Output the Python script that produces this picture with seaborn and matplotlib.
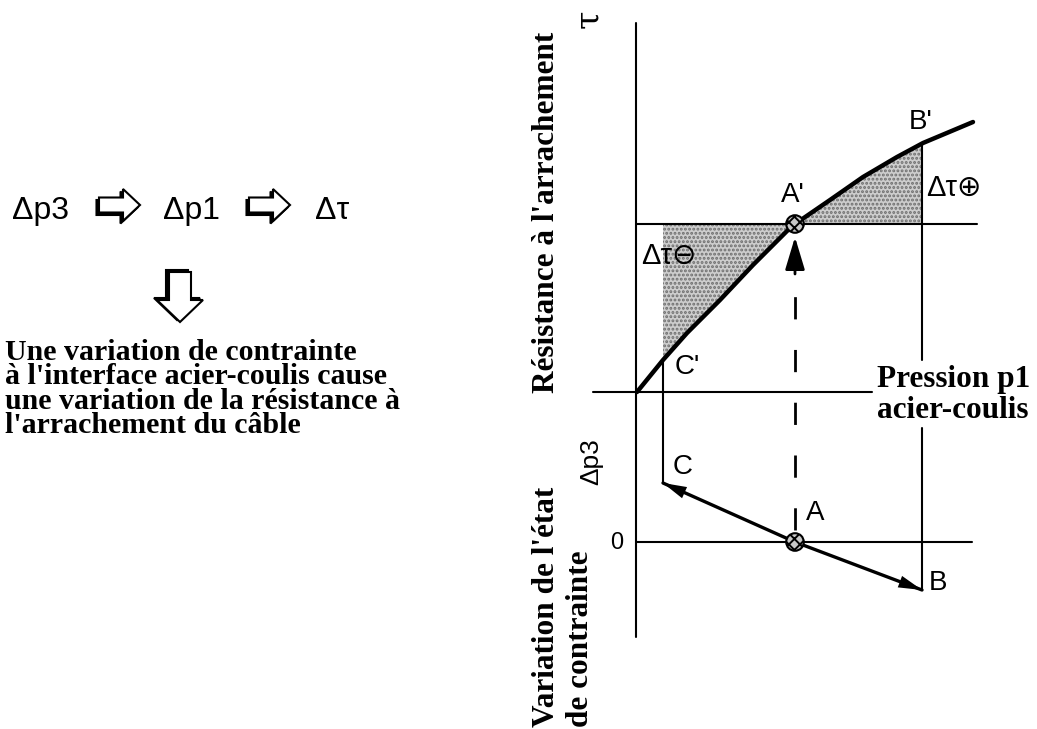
import matplotlib
matplotlib.use("Agg")
import matplotlib.pyplot as plt
import matplotlib.patches as mpatches
import numpy as np
import seaborn as sns

# ---------------- data (diagram units, y grows downward) ----------------
# tau = f(p1) curve
curve_x = [637, 663, 687, 720, 753, 787, 795, 830, 863, 897, 923, 973]
curve_y = [392, 360, 333, 300, 265, 231, 224, 200, 177, 157, 143, 122]

# stress path C -> A -> B (lower diagram)
path_x = [663, 795, 922]
path_y = [483, 542, 590]
path_labels = ["C", "A", "B"]

# characteristic points on the curve
point_labels = ["C'", "A'", "B'"]
point_x = [663, 795, 923]
point_y = [360, 224, 143]

# reference levels
tau_axis_x = 636
p1_axis_y = 392
tau_a_level = 224
dp3_zero_y = 542

left_chain = ["Δp3", "Δp1", "Δτ"]
paragraph = ["Une variation de contrainte",
             "à l'interface acier-coulis cause",
             "une variation de la résistance à",
             "l'arrachement du câble"]

# ---------------- figure ----------------
sns.set_theme(style="white")
plt.rcParams['font.family'] = ['Liberation Sans', 'DejaVu Sans']
plt.rcParams['hatch.linewidth'] = 1.4

fig = plt.figure(figsize=(10.37, 7.29), dpi=100)
ax = fig.add_axes([0, 0, 1, 1])
ax.set_xlim(0, 1037)
ax.set_ylim(729, 0)
ax.axis('off')

K = 'black'
ax.plot([tau_axis_x, tau_axis_x], [23, 637], color=K, lw=1.5)
ax.plot([593, 872], [p1_axis_y, p1_axis_y], color=K, lw=1.5)
ax.plot([tau_axis_x, 977], [tau_a_level, tau_a_level], color=K, lw=1.5)
ax.plot([tau_axis_x, 972], [dp3_zero_y, dp3_zero_y], color=K, lw=1.5)
# vertical from B' down to B (interrupted by text)
ax.plot([point_x[2] - 1, point_x[2] - 1], [point_y[2], 360], color=K, lw=1.5)
ax.plot([path_x[2], path_x[2]], [428, path_y[2]], color=K, lw=1.5)
# vertical from C' down to C
ax.plot([point_x[0], point_x[0]], [point_y[0], path_y[0]], color=K, lw=1.5)

# shaded areas
cx = np.array(curve_x)
cy = np.array(curve_y)
m1 = (cx >= point_x[0]) & (cx <= point_x[1])
m2 = (cx >= point_x[1]) & (cx <= point_x[2])
for m in (m1, m2):
    ax.fill_between(cx[m], cy[m], tau_a_level, facecolor='#cdcdcd',
                    edgecolor='#6e6e6e', hatch='....', lw=0, zorder=1)

# curve
sns.lineplot(x=curve_x, y=curve_y, sort=False, estimator=None, color=K,
             lw=3.2, ax=ax, zorder=3)
# stress path
sns.lineplot(x=path_x, y=path_y, sort=False, estimator=None, color=K,
             lw=2.4, ax=ax, zorder=3)

ap = dict(arrowstyle='-|>,head_length=0.85,head_width=0.22', color=K, lw=0,
          shrinkA=0, shrinkB=0, mutation_scale=20)
ax.annotate('', xy=(path_x[0], path_y[0]),
            xytext=(path_x[0] + 0.3 * (path_x[1] - path_x[0]),
                    path_y[0] + 0.3 * (path_y[1] - path_y[0])), arrowprops=ap)
ax.annotate('', xy=(path_x[2], path_y[2]),
            xytext=(path_x[2] - 0.3 * (path_x[2] - path_x[1]),
                    path_y[2] - 0.3 * (path_y[2] - path_y[1])), arrowprops=ap)

# dashed projection A -> A'
ax.plot([path_x[1], path_x[1]], [530, 262], color=K, lw=2, ls=(0, (8, 11)))
ax.annotate('', xy=(point_x[1], 237), xytext=(point_x[1], 274),
            arrowprops=dict(arrowstyle='-|>,head_length=1.0,head_width=0.3',
                            color=K, lw=2, shrinkA=0, shrinkB=0,
                            mutation_scale=20))

# points A and A'
ax.scatter([point_x[1], path_x[1]], [point_y[1], path_y[1]], s=160,
           facecolor='#c8c8c8', edgecolor=K, linewidths=1.5, hatch='xxx',
           zorder=6)

# ---------------- texts ----------------
serif = dict(family='Liberation Serif', weight='bold', fontsize=22.5, color=K)
sans = dict(family=['Liberation Sans', 'DejaVu Sans'], color=K)

ax.text(547, 212, "Résistance à l'arrachement", rotation=90,
        ha='center', va='center', **serif)
ax.text(546, 727, "Variation de l'état", rotation=90, ha='center',
        va='bottom', **serif)
ax.text(581, 727, "de contrainte", rotation=90, ha='center',
        va='bottom', **serif)
ax.text(877, 387, "Pression p1", ha='left', va='baseline', **serif)
ax.text(877, 418, "acier-coulis", ha='left', va='baseline', **serif)

ax.text(589, 19, 'τ', rotation=90, ha='center', va='center',
        family='DejaVu Serif', fontsize=24, color=K)
ax.text(591, 462, 'Δp3', rotation=90, ha='center', va='center',
        fontsize=19, **sans)
ax.text(617, 543, '0', ha='center', va='center', fontsize=17, **sans)

lab_off = {"C'": (24, 7), "A'": (-2, -29), "B'": (-2, -21)}
for lab, x, y in zip(point_labels, point_x, point_y):
    dx, dy = lab_off[lab]
    ax.text(x + dx, y + dy, lab, ha='center', va='center', fontsize=20, **sans)
lab_off2 = {"C": (20, -16), "A": (20, -29), "B": (16, -7)}
for lab, x, y in zip(path_labels, path_x, path_y):
    dx, dy = lab_off2[lab]
    ax.text(x + dx, y + dy, lab, ha='center', va='center', fontsize=20, **sans)

ax.text(641, 256, 'Δτ⊖', ha='left', va='center', fontsize=21, **sans)
ax.text(926, 188, 'Δτ⊕', ha='left', va='center', fontsize=21, **sans)

# left chain  Δp3 => Δp1 => Δτ
for txt, x in zip(left_chain, [12, 163, 315]):
    ax.text(x, 219, txt, ha='left', va='baseline', fontsize=23, **sans)

def hollow_arrow(x, y, dx, dy, width, hw, hl, sx, sy):
    ax.add_patch(mpatches.FancyArrow(x + sx, y + sy, dx, dy, width=width,
                                     head_width=hw, head_length=hl,
                                     length_includes_head=True, fc=K, ec=K,
                                     lw=1.5))
    ax.add_patch(mpatches.FancyArrow(x, y, dx, dy, width=width,
                                     head_width=hw, head_length=hl,
                                     length_includes_head=True, fc='white',
                                     ec=K, lw=1.5))

hollow_arrow(99, 205, 41, 0, 15, 32, 17, -2.5, 2.5)
hollow_arrow(249, 205, 41, 0, 15, 32, 17, -2.5, 2.5)
hollow_arrow(180, 272, 0, 50, 22, 46, 22, -3, -2)

# paragraph: anchored on the baseline of its last line
ax.text(5, 433, "\n".join(paragraph), ha='left', va='baseline',
        linespacing=0.88, multialignment='left',
        family='Liberation Serif', weight='bold', fontsize=21.5, color=K)

fig.savefig('out.png', dpi=100)
